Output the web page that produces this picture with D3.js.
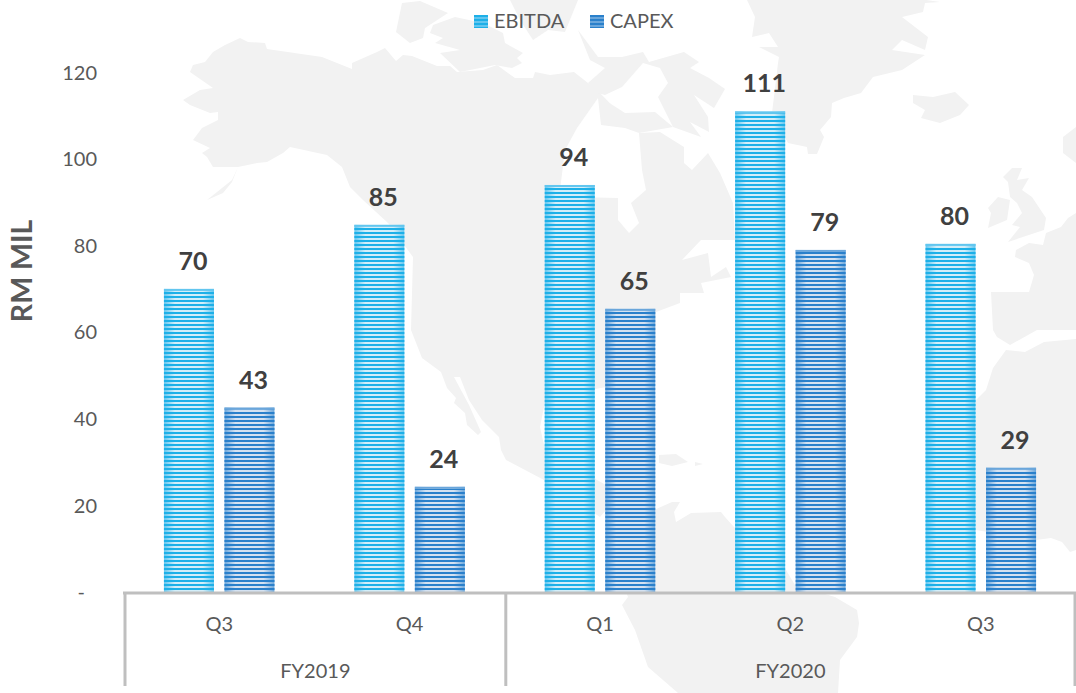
<!DOCTYPE html>
<html><head><meta charset="utf-8">
<script src="https://cdn.jsdelivr.net/npm/d3@7"></script>
<style>html,body{margin:0;padding:0;background:#fff}svg{display:block}text{font-family:Lato,"Open Sans",sans-serif}</style>
</head><body><div id="c"></div>
<script>
const quarters = ["Q3","Q4","Q1","Q2","Q3"];
const years = ["FY2019","FY2020"];
const yearSpans = [2,3];
const seriesNames = ["EBITDA","CAPEX"];
const ebitda = [70,84.8,94,111,80.4];
const capex = [42.6,24.3,65.4,79,28.7];
const yTicks = [0,20,40,60,80,100,120];

const darkCol = {EBITDA:"#1DB0E8",CAPEX:"#2A80CB"};
const lightCol = {EBITDA:"#D3EEF9",CAPEX:"#D5E2F1"};
const edgeCol = {EBITDA:"#62C6EF",CAPEX:"#6AA6DB"};

// Decorative backdrop: faint world-map shapes
const land = [
 [[183,100],[200,90],[213,88],[190,72],[193,65],[205,62],[213,52],[225,45],[240,38],[248,42],[265,43],[267,49],[322,57],[352,69],[352,63],[377,52],[385,48],[396,61],[403,55],[412,56],[437,66],[450,66],[457,72],[483,70],[497,65],[515,78],[533,78],[535,72],[550,75],[574,72],[588,83],[600,93],[639,133],[660,132],[684,147],[684,163],[692,170],[708,153],[720,173],[733,203],[735,240],[701,240],[682,260],[708,253],[711,277],[726,267],[731,277],[701,283],[704,293],[680,293],[680,303],[656,312],[656,340],[606,387],[580,392],[545,402],[540,427],[544,445],[597,480],[606,485],[606,510],[600,517],[544,480],[506,460],[501,450],[499,437],[482,420],[469,400],[460,377],[454,377],[469,405],[481,432],[478,435],[467,425],[465,413],[454,403],[456,398],[447,388],[441,372],[422,358],[411,330],[413,257],[388,223],[363,200],[350,187],[342,167],[327,155],[290,147],[283,153],[267,162],[257,163],[238,167],[232,182],[223,193],[207,200],[217,192],[232,180],[238,167],[213,167],[207,157],[202,153],[210,148],[193,140],[202,128],[218,120],[218,112],[210,113],[190,105]],
 [[578,30],[598,57],[622,57],[643,52],[649,62],[684,52],[699,62],[690,68],[709,78],[725,89],[714,108],[694,95],[708,117],[709,132],[690,122],[701,137],[673,127],[658,97],[668,83],[660,68],[643,63],[622,87],[605,95],[598,93],[588,83],[605,68],[590,60]],
 [[600,97],[625,113],[655,112],[673,127],[639,133],[625,128],[601,125]],
 [[402,3],[420,1],[448,13],[425,28],[423,38],[410,43],[396,32]],
 [[433,25],[455,17],[483,23],[503,33],[505,43],[523,53],[517,58],[522,63],[512,68],[495,65],[460,72],[440,53],[460,50],[435,43],[443,38],[430,33]],
 [[510,0],[578,0],[565,32],[548,30],[533,40],[520,20]],
 [[747,0],[755,17],[752,37],[769,33],[778,47],[759,47],[779,57],[778,63],[772,113],[788,143],[807,147],[808,154],[817,154],[824,137],[820,130],[831,117],[832,103],[844,98],[861,93],[873,77],[902,70],[925,55],[892,50],[902,40],[925,50],[928,37],[902,17],[923,12],[925,3],[940,2],[926,0]],
 [[913,95],[933,97],[955,92],[969,105],[960,115],[940,123],[921,118],[925,110],[913,103]],
 [[1012,168],[1022,168],[1017,180],[1029,178],[1022,190],[1032,197],[1046,218],[1044,230],[1008,242],[1020,227],[1012,225],[1022,213],[1017,203],[1010,197],[1008,182],[1003,177]],
 [[998,197],[1010,200],[1007,220],[988,228],[991,213],[988,208]],
 [[1076,127],[1063,137],[1063,153],[1076,163]],
 [[991,292],[1029,292],[1034,275],[1029,263],[1015,257],[1016,250],[1029,243],[1043,245],[1046,233],[1061,227],[1068,218],[1076,213],[1076,330],[1037,330],[1010,345],[997,337],[993,330]],
 [[976,400],[986,390],[993,368],[1006,350],[1025,352],[1044,342],[1076,339],[1076,550],[1070,552],[1062,542],[1051,538],[1036,540],[976,530]],
 [[659,455],[676,454],[688,462],[672,466],[659,463]],
 [[695,462],[703,464],[695,466]],
 [[606,510],[654,510],[672,502],[680,502],[674,512],[676,522],[691,513],[721,512],[725,517],[734,527],[786,570],[795,585],[835,597],[857,610],[859,623],[857,637],[840,660],[838,693],[678,693],[648,667],[635,630],[622,605],[628,597],[606,540]]
];
const sea = [
 [[577,128],[565,150],[560,190],[575,197],[618,198],[618,220],[629,233],[639,223],[631,203],[646,190],[642,170],[639,133],[625,128],[601,125],[598,98]]
];

const W=1076,H=693;
const svg=d3.select("#c").append("svg").attr("width",W).attr("height",H);
const defs=svg.append("defs");
seriesNames.forEach(s=>{
  const g=defs.append("linearGradient").attr("id","base"+s);
  [[0,edgeCol[s]],[.22,lightCol[s]],[.78,lightCol[s]],[1,edgeCol[s]]].forEach(([o,c])=>g.append("stop").attr("offset",o).attr("stop-color",c));
  const p=defs.append("pattern").attr("id","stripe"+s).attr("patternUnits","userSpaceOnUse").attr("width",8).attr("height",4);
  p.append("rect").attr("width",8).attr("height",2).attr("fill",darkCol[s]);
});

const line=d3.line();
svg.append("g").selectAll("path").data(land).join("path").attr("d",d=>line(d)+"Z").attr("fill","#F2F2F2");
svg.append("g").selectAll("path").data(sea).join("path").attr("d",d=>line(d)+"Z").attr("fill","#fff");

const plot={left:124,right:1076,top:72.4,bottom:592};
const x0=d3.scaleBand().domain(d3.range(quarters.length)).range([plot.left,plot.right]);
const x1=d3.scaleBand().domain(seriesNames).range([0,x0.bandwidth()]).paddingInner(.1736).paddingOuter(.66);
const y=d3.scaleLinear().domain([0,120]).range([plot.bottom,plot.top]);

// y axis
const ya=svg.append("g").attr("transform",`translate(${plot.left},0)`)
  .call(d3.axisLeft(y).tickValues(yTicks).tickSize(0).tickPadding(27).tickFormat(d=>d===0?"-":d));
ya.select(".domain").remove();
ya.selectAll("text").attr("font-size",20).attr("fill","#595959").style("font-family","Lato").attr("dy","0.33em");
ya.selectAll(".tick").filter(d=>d===0).select("text").attr("dx",-12);

svg.append("text").attr("transform","translate(32,271) rotate(-90)").attr("text-anchor","middle")
  .attr("font-size",28.5).attr("font-weight",700).attr("fill","#595959").text("RM MIL");

// bars
const rows=[["EBITDA",ebitda],["CAPEX",capex]];
const fmt=d3.format(".0f");
rows.forEach(([s,vals])=>{
  const g=svg.append("g");
  const bars=g.selectAll("g").data(vals).join("g");
  bars.append("rect").attr("x",(d,i)=>x0(i)+x1(s)).attr("y",d=>y(d)).attr("width",x1.bandwidth()).attr("height",d=>y(0)-y(d)).attr("fill",`url(#base${s})`);
  bars.append("rect").attr("x",(d,i)=>x0(i)+x1(s)).attr("y",d=>y(d)+2).attr("width",x1.bandwidth()).attr("height",d=>y(0)-y(d)-2).attr("fill",`url(#stripe${s})`);
  bars.append("rect").attr("x",(d,i)=>x0(i)+x1(s)).attr("y",d=>y(d)).attr("width",x1.bandwidth()).attr("height",2).attr("fill",edgeCol[s]);
  bars.append("text").attr("x",(d,i)=>x0(i)+x1(s)+x1.bandwidth()/2+4).attr("y",d=>y(d)-19)
    .attr("text-anchor","middle").attr("font-size",25).attr("font-weight",700).attr("fill","#404040").text(d=>fmt(d));
});

// multi-level category axis
const axisCol="#BFBFBF";
const ax=svg.append("g");
ax.append("line").attr("x1",plot.left-1).attr("x2",plot.right).attr("y1",593).attr("y2",593).attr("stroke",axisCol).attr("stroke-width",3);
let acc=0;const cuts=[0];yearSpans.forEach(n=>{acc+=n;cuts.push(acc)});
const cutX=i=>i===quarters.length?plot.right-1:x0(i)+1;
ax.selectAll(".v").data(cuts).join("line").attr("x1",cutX).attr("x2",cutX).attr("y1",593).attr("y2",686).attr("stroke",axisCol).attr("stroke-width",3);
svg.append("g").selectAll("text").data(quarters).join("text").attr("x",(d,i)=>x0(i)+x0.bandwidth()/2).attr("y",631)
  .attr("text-anchor","middle").attr("font-size",20).attr("fill","#595959").text(d=>d);
svg.append("g").selectAll("text").data(years).join("text").attr("x",(d,i)=>(cutX(cuts[i])+cutX(cuts[i+1]))/2).attr("y",678)
  .attr("text-anchor","middle").attr("font-size",20).attr("fill","#595959").text(d=>d);

// legend
const legendX=d3.scaleOrdinal().domain(seriesNames).range([474,590]);
seriesNames.forEach(s=>{
  const g=svg.append("g").attr("transform",`translate(${legendX(s)},15)`);
  g.append("rect").attr("width",14).attr("height",13).attr("fill",edgeCol[s]);
  g.append("rect").attr("width",14).attr("height",13).attr("fill",`url(#stripe${s})`);
  g.append("text").attr("x",20).attr("y",13).attr("font-size",20).attr("fill","#595959").text(s);
});
</script></body></html>
